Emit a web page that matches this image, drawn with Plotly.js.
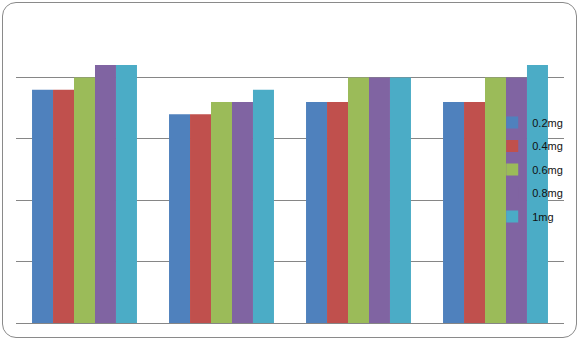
<!DOCTYPE html>
<html>
<head>
<meta charset="utf-8">
<script src="https://cdn.plot.ly/plotly-3.0.1.min.js"></script>
<style>
  html, body { margin: 0; padding: 0; background: #fff; }
  #wrap { position: relative; width: 581px; height: 341px; }
  #frame { position: absolute; left: 2px; top: 2px; width: 575px; height: 336px; box-sizing: border-box;
           border: 1.5px solid #8a8a8a; border-radius: 14px; pointer-events: none; }
  #chart { position: absolute; left: 0; top: 0; width: 581px; height: 341px; }
</style>
</head>
<body>
<div id="wrap">
  <div id="chart"></div>
  <div id="frame"></div>
</div>
<script>
const categories = ["1", "2", "3", "4"];
const seriesNames = ["0.2mg", "0.4mg", "0.6mg", "0.8mg", "1mg"];
const s02 = [3.8, 3.4, 3.6, 3.6];
const s04 = [3.8, 3.4, 3.6, 3.6];
const s06 = [4.0, 3.6, 4.0, 4.0];
const s08 = [4.2, 3.6, 4.0, 4.0];
const s1  = [4.2, 3.8, 4.0, 4.2];
const seriesValues = [s02, s04, s06, s08, s1];
const colors = ["#4F81BD", "#C0504D", "#9BBB59", "#8064A2", "#4BACC6"];

const traces = seriesNames.map((name, i) => ({
  type: "bar",
  name: name,
  x: categories,
  y: seriesValues[i],
  marker: { color: colors[i], line: { width: 0 } },
  legendgroup: "g" + i,
  hoverinfo: "skip"
}));

const layout = {
  width: 581,
  height: 341,
  margin: { l: 16, r: 17, t: 16, b: 18, autoexpand: false },
  paper_bgcolor: "rgba(0,0,0,0)",
  plot_bgcolor: "rgba(0,0,0,0)",
  barmode: "group",
  bargap: 0.234,
  bargroupgap: 0,
  font: { family: "Liberation Sans, Arial, sans-serif", size: 11, color: "#111" },
  xaxis: {
    type: "category",
    showticklabels: false,
    showgrid: false,
    zeroline: false,
    showline: false,
    ticks: ""
  },
  yaxis: {
    range: [0, 5],
    dtick: 1,
    showticklabels: false,
    showgrid: true,
    gridcolor: "#868686",
    gridwidth: 1,
    zeroline: true,
    zerolinecolor: "#868686",
    zerolinewidth: 1,
    showline: false,
    ticks: ""
  },
  showlegend: true,
  legend: {
    x: 0.869,
    xanchor: "left",
    y: 0.70,
    yanchor: "top",
    bgcolor: "rgba(0,0,0,0)",
    borderwidth: 0,
    tracegroupgap: 4.5,
    traceorder: "grouped",
    font: { size: 11, color: "#111" }
  }
};

Plotly.newPlot("chart", traces, layout, { displayModeBar: false, staticPlot: true });
</script>
</body>
</html>
